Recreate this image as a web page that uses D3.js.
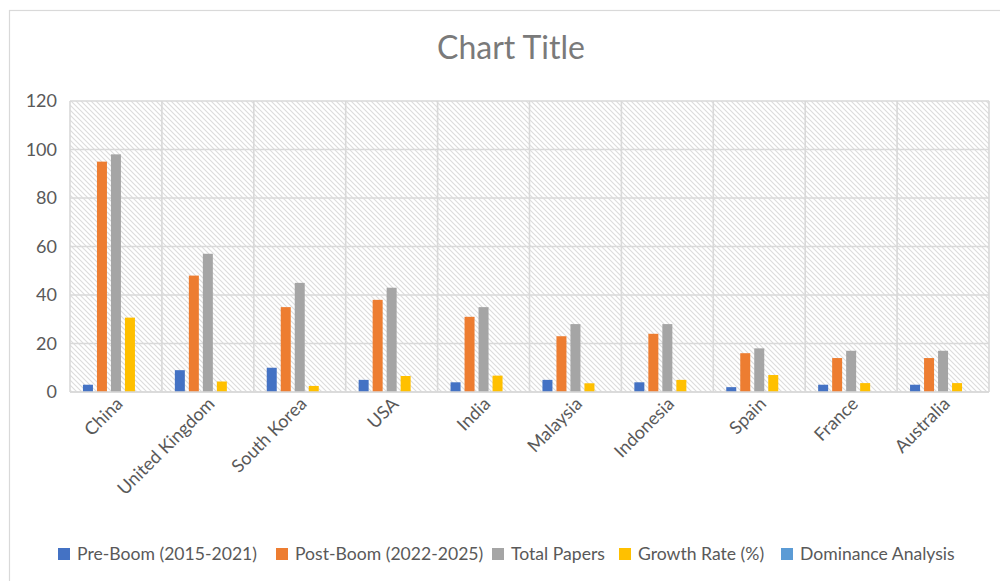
<!DOCTYPE html>
<html>
<head>
<meta charset="utf-8">
<script src="https://cdn.jsdelivr.net/npm/d3@7"></script>
<style>
  html, body { margin: 0; padding: 0; background: #fff; }
  svg { display: block; font-family: Lato, "Open Sans", sans-serif; }
</style>
</head>
<body>
<svg id="chart" width="1000" height="581"></svg>
<script>
// Countries and paper counts per period
const countries = ["China", "United Kingdom", "South Korea", "USA", "India",
                   "Malaysia", "Indonesia", "Spain", "France", "Australia"];
const preBoom   = [3, 9, 10, 5, 4, 5, 4, 2, 3, 3];
const postBoom  = [95, 48, 35, 38, 31, 23, 24, 16, 14, 14];
const totalPapers = [98, 57, 45, 43, 35, 28, 28, 18, 17, 17];
const growthRate  = [30.67, 4.33, 2.5, 6.6, 6.75, 3.6, 5, 7, 3.67, 3.67];
const dominance   = [null, null, null, null, null, null, null, null, null, null];

const seriesNames = ["Pre-Boom (2015-2021)", "Post-Boom (2022-2025)", "Total Papers",
                     "Growth Rate (%)", "Dominance Analysis"];
const seriesValues = [preBoom, postBoom, totalPapers, growthRate, dominance];
const seriesColors = ["#4472C4", "#ED7D31", "#A5A5A5", "#FFC000", "#5B9BD5"];
const yTicks = [0, 20, 40, 60, 80, 100, 120];

const svg = d3.select("#chart");

// outer chart frame
svg.append("rect")
  .attr("x", 9.5).attr("y", 10.5)
  .attr("width", 1010).attr("height", 600)
  .attr("fill", "#fff").attr("stroke", "#d9d9d9").attr("stroke-width", 1.2);

// diagonal hatch fill for the plot area
const defs = svg.append("defs");
const pat = defs.append("pattern")
  .attr("id", "hatch").attr("patternUnits", "userSpaceOnUse")
  .attr("width", 5).attr("height", 5);
pat.append("rect").attr("width", 5).attr("height", 5).attr("fill", "#fff");
pat.append("path")
  .attr("d", "M-1,-1 L6,6 M-1,4 L1,6 M4,-1 L6,1")
  .attr("stroke", "#dcdcdc").attr("stroke-width", 1.1);

const plot = { left: 70, right: 989, top: 101, bottom: 392 };

const x = d3.scaleBand().domain(countries).range([plot.left, plot.right]);
const xSub = d3.scaleBand().domain(d3.range(seriesNames.length))
  .range([0, x.bandwidth()]).paddingInner(0.286).paddingOuter(0.925);
const y = d3.scaleLinear().domain([0, 120]).range([plot.bottom, plot.top]);

svg.append("rect")
  .attr("x", plot.left).attr("y", plot.top)
  .attr("width", plot.right - plot.left).attr("height", plot.bottom - plot.top)
  .attr("fill", "url(#hatch)");

// horizontal gridlines
svg.append("g").selectAll("line").data(yTicks).join("line")
  .attr("x1", plot.left).attr("x2", plot.right)
  .attr("y1", d => y(d)).attr("y2", d => y(d))
  .attr("stroke", "#d9d9d9").attr("stroke-width", 1.6);

// vertical gridlines at category boundaries
const bounds = countries.map(c => x(c)).concat([plot.right]);
svg.append("g").selectAll("line").data(bounds).join("line")
  .attr("x1", d => d).attr("x2", d => d)
  .attr("y1", plot.top).attr("y2", plot.bottom)
  .attr("stroke", "#d9d9d9").attr("stroke-width", 1.6);

// y axis labels
const yAxis = d3.axisLeft(y).tickValues(yTicks).tickSize(0).tickPadding(13);
const gy = svg.append("g").attr("transform", `translate(${plot.left},0)`).call(yAxis);
gy.select(".domain").remove();
gy.selectAll("text").attr("fill", "#595959").attr("font-size", 18)
  .attr("font-family", "Lato, sans-serif");

// bars
const rows = [];
seriesValues.forEach((vals, si) => {
  vals.forEach((v, ci) => {
    if (v !== null) rows.push({ si, c: countries[ci], v });
  });
});
svg.append("g").selectAll("rect").data(rows).join("rect")
  .attr("x", d => x(d.c) + xSub(d.si))
  .attr("width", xSub.bandwidth())
  .attr("y", d => y(d.v))
  .attr("height", d => y(0) - y(d.v))
  .attr("fill", d => seriesColors[d.si]);

// category axis line
svg.append("line")
  .attr("x1", plot.left).attr("x2", plot.right)
  .attr("y1", plot.bottom).attr("y2", plot.bottom)
  .attr("stroke", "#d9d9d9").attr("stroke-width", 1.6);

// rotated category labels
const xAxis = d3.axisBottom(x).tickSize(0).tickPadding(0);
const gx = svg.append("g").attr("transform", `translate(0,${plot.bottom})`).call(xAxis);
gx.select(".domain").remove();
gx.selectAll("text")
  .attr("fill", "#595959").attr("font-size", 18)
  .attr("font-family", "Lato, sans-serif")
  .attr("text-anchor", "end")
  .attr("dy", "0")
  .attr("transform", "translate(8,13) rotate(-45)");

// title
svg.append("text")
  .attr("x", 511).attr("y", 59)
  .attr("text-anchor", "middle")
  .attr("fill", "#7a7a7a").attr("font-size", 32)
  .text("Chart Title");

// legend
const legendX = [58, 276, 492, 619, 781];
const lg = svg.append("g");
seriesNames.forEach((name, i) => {
  lg.append("rect")
    .attr("x", legendX[i]).attr("y", 548)
    .attr("width", 12).attr("height", 12)
    .attr("fill", seriesColors[i]);
  lg.append("text")
    .attr("x", legendX[i] + 19).attr("y", 560)
    .attr("fill", "#595959").attr("font-size", 17.6)
    .text(name);
});
</script>
</body>
</html>
